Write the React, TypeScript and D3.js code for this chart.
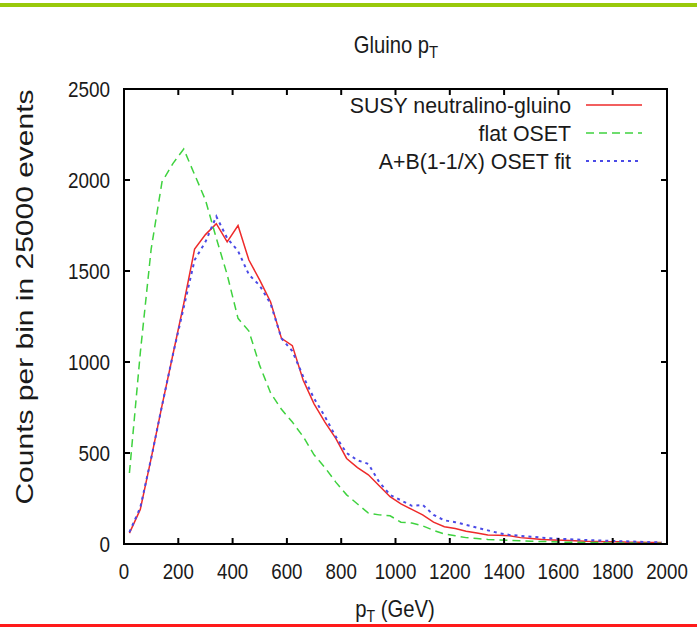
import React from "react";
import * as d3 from "d3";

const binCenters = [20,60,100,140,180,220,260,300,340,380,420,460,500,540,580,620,660,700,740,780,820,860,900,940,980,1020,1060,1100,1140,1180,1220,1260,1300,1340,1380,1420,1460,1500,1540,1580,1620,1660,1700,1740,1780,1820,1860,1900,1940,1980];

const susy = [60,190,470,760,1040,1320,1620,1700,1760,1660,1750,1560,1450,1330,1130,1090,900,770,670,580,470,420,380,320,260,220,190,160,120,95,85,70,60,50,48,45,35,30,25,22,20,18,15,14,13,12,10,10,8,8];

const flatOset = [390,1050,1620,1990,2090,2170,2030,1890,1680,1480,1240,1170,980,830,740,670,590,490,420,340,270,220,170,160,155,120,115,100,75,55,45,35,30,25,22,20,18,15,14,12,10,10,8,8,6,6,5,5,4,4];

const osetFit = [65,200,470,760,1040,1300,1560,1660,1800,1680,1610,1480,1420,1320,1130,1060,920,800,700,590,500,460,440,340,270,240,210,215,160,130,120,105,90,75,60,50,45,40,35,30,28,25,22,20,18,16,14,12,10,10];

const xTicks = [0,200,400,600,800,1000,1200,1400,1600,1800,2000];
const yTicks = [0,500,1000,1500,2000,2500];
const legendLabels = ["SUSY neutralino-gluino", "flat OSET", "A+B(1-1/X) OSET fit"];

const W = 697, H = 627;
const X0 = 124, X1 = 667, Y0 = 89, Y1 = 544;
const FONT = "'Liberation Sans', Arial, sans-serif";
const SX = 0.88;

function T({ x, y, size, anchor = "middle", sx = SX, rot = 0, children }: any) {
  return (
    <text
      transform={`translate(${x},${y}) scale(${sx},1)${rot ? ` rotate(${rot})` : ""}`}
      fontSize={size}
      fontFamily={FONT}
      textAnchor={anchor}
      fill="#1a1a1a"
    >
      {children}
    </text>
  );
}

export default function App() {
  const x = d3.scaleLinear().domain([0, 2000]).range([X0, X1]);
  const y = d3.scaleLinear().domain([0, 2500]).range([Y1, Y0]);
  const line = d3
    .line<number>()
    .x((_, i) => x(binCenters[i]))
    .y((d) => y(d));

  const series = [
    { data: susy, color: "#ee2a2a", dash: undefined, width: 1.5 },
    { data: flatOset, color: "#3fd23f", dash: "8,5", width: 1.5 },
    { data: osetFit, color: "#4a4ae6", dash: "3,4", width: 2 },
  ];
  const tickLen = 6;
  const legendY = [105, 133, 161];

  return (
    <svg width={W} height={H} style={{ position: "absolute", left: 0, top: 0, background: "#fff" }}>
      <rect x={0} y={0} width={W} height={H} fill="#fff" />
      <rect x={0} y={3} width={W} height={4} fill="#99c90a" />
      <rect x={0} y={624} width={W} height={3} fill="#ff1a1a" />

      <text transform={`translate(396,53) scale(${SX},1)`} fontSize={23} fontFamily={FONT} textAnchor="middle" fill="#1a1a1a">
        Gluino p<tspan fontSize={17} dy={5}>T</tspan>
      </text>

      {series.map((s, k) => (
        <path key={k} d={line(s.data) || ""} fill="none" stroke={s.color} strokeWidth={s.width} strokeDasharray={s.dash} />
      ))}

      <rect x={X0} y={Y0} width={X1 - X0} height={Y1 - Y0} fill="none" stroke="#000" strokeWidth={2} />
      {xTicks.map((t) => (
        <g key={"x" + t}>
          <line x1={x(t)} x2={x(t)} y1={Y1} y2={Y1 - tickLen} stroke="#000" strokeWidth={2} />
          <line x1={x(t)} x2={x(t)} y1={Y0} y2={Y0 + tickLen} stroke="#000" strokeWidth={2} />
          <T x={x(t)} y={579} size={22} sx={0.85}>{t}</T>
        </g>
      ))}
      {yTicks.map((t) => (
        <g key={"y" + t}>
          <line x1={X0} x2={X0 + tickLen} y1={y(t)} y2={y(t)} stroke="#000" strokeWidth={2} />
          <line x1={X1} x2={X1 - tickLen} y1={y(t)} y2={y(t)} stroke="#000" strokeWidth={2} />
          <T x={110} y={y(t) + 8} size={22} sx={0.86} anchor="end">{t}</T>
        </g>
      ))}

      <text transform={`translate(395,617) scale(${SX},1)`} fontSize={23} fontFamily={FONT} textAnchor="middle" fill="#1a1a1a">
        p<tspan fontSize={16} dy={5}>T</tspan><tspan dy={-5}> (GeV)</tspan>
      </text>
      <T x={33} y={297} size={30} sx={0.78} rot={-90}>Counts per bin in 25000 events</T>

      {series.map((s, k) => (
        <g key={"l" + k}>
          <T x={571} y={legendY[k] + 8} size={22} sx={0.97} anchor="end">{legendLabels[k]}</T>
          <line x1={586} x2={642} y1={legendY[k]} y2={legendY[k]} stroke={s.color} strokeWidth={s.width} strokeDasharray={s.dash} />
        </g>
      ))}
    </svg>
  );
}
